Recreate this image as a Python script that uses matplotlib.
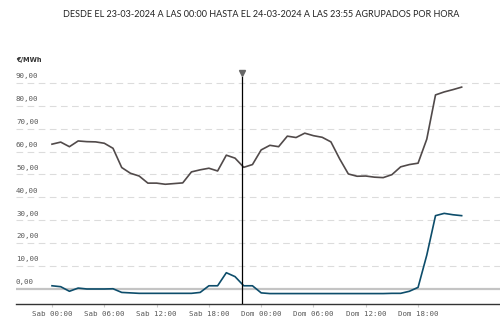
import matplotlib.pyplot as plt
import matplotlib.transforms as mtransforms
import numpy as np

# hourly values, 23-03-2024 00:00 .. 24-03-2024 23:00
hours = np.arange(48)
price_gray = [63.2, 64.1, 62.1, 64.6, 64.3, 64.2, 63.6, 61.4, 53.0, 50.5,
              49.3, 46.2, 46.2, 45.7, 46.0, 46.3, 51.1, 52.0, 52.7, 51.5,
              58.4, 57.1, 53.1, 54.3, 60.7, 62.7, 62.1, 66.7, 66.1, 68.0,
              66.9, 66.2, 64.2, 56.8, 50.2, 49.2, 49.3, 48.8, 48.6, 49.9,
              53.3, 54.3, 54.9, 65.4, 84.7, 86.0, 87.0, 88.1]
price_blue = [1.4, 1.0, -1.0, 0.4, 0.0, 0.0, 0.0, 0.1, -1.5, -1.7,
              -1.9, -1.9, -1.9, -1.9, -1.9, -1.9, -1.9, -1.5, 1.4, 1.4,
              7.1, 5.4, 1.4, 1.4, -1.7, -2.0, -2.0, -2.0, -2.0, -2.0,
              -2.0, -2.0, -2.0, -2.0, -2.0, -2.0, -2.0, -2.0, -2.0, -1.9,
              -1.9, -1.0, 0.7, 14.8, 32.0, 33.0, 32.4, 32.0]
xtick_pos = [0, 6, 12, 18, 24, 30, 36, 42]
xtick_labels = ["Sab 00:00", "Sab 06:00", "Sab 12:00", "Sab 18:00",
                "Dom 00:00", "Dom 06:00", "Dom 12:00", "Dom 18:00"]
ytick_vals = [0, 10, 20, 30, 40, 50, 60, 70, 80, 90]
cursor_hour = 21.8

title = "DESDE EL 23-03-2024 A LAS 00:00 HASTA EL 24-03-2024 A LAS 23:55 AGRUPADOS POR HORA"

mono = "DejaVu Sans Mono"

fig = plt.figure(figsize=(5, 3.26), dpi=100)
ax = fig.add_axes([0.032, 0.0675, 0.968, 0.718])
ax.set_xlim(-4.13, 51.4)
ax.set_ylim(-6.55, 95.6)

# grid lines + labels above them
for v in ytick_vals:
    if v == 0:
        ax.axhline(v, color="#c4c4c4", lw=1.6, zorder=1)
    else:
        ax.axhline(v, color="#dcdcdc", lw=0.8, dashes=(6, 4), zorder=1)
    ax.text(0.0, v + 1.6, f"{v},00", transform=mtransforms.blended_transform_factory(ax.transAxes, ax.transData),
            fontsize=5.4, family=mono, color="#5a5a5a", ha="left", va="bottom")

ax.plot(hours, price_gray, color="#514a4a", lw=1.2, zorder=3)
ax.plot(hours, price_blue, color="#0d4d6b", lw=1.2, zorder=3)

# hover cursor
ax.axvline(cursor_hour, ymax=0.97, color="black", lw=0.9, zorder=4)
ax.plot([cursor_hour], [94.3], marker="v", color="#666666", markersize=4.5,
        clip_on=False, zorder=5)

ax.set_xticks(xtick_pos)
ax.set_xticklabels(xtick_labels, family=mono, fontsize=5.4, color="#5a5a5a")
ax.set_yticks([])
ax.tick_params(axis="x", length=2, color="#cccccc", pad=3)
for s in ["top", "right", "left"]:
    ax.spines[s].set_visible(False)
ax.spines["bottom"].set_color("#333333")
ax.spines["bottom"].set_linewidth(1.0)

fig.text(0.522, 0.956, title, ha="center", va="center", fontsize=6.5,
         family="Lato", color="#222222")
fig.text(0.032, 0.815, "€/MWh", ha="left", va="center", fontsize=4.8,
         family="DejaVu Sans", color="#333333", fontweight="bold")

fig.savefig("out.png", dpi=100)
